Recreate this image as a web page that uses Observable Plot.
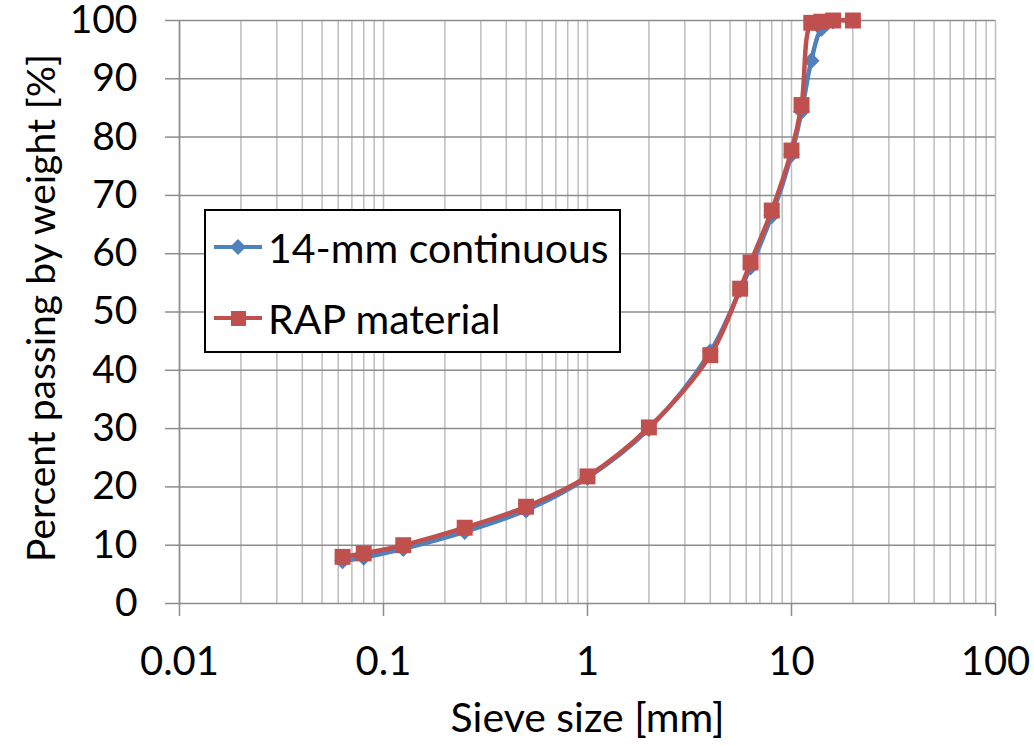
<!DOCTYPE html>
<html>
<head>
<meta charset="utf-8">
<script src="https://cdn.jsdelivr.net/npm/d3@7"></script>
<script src="https://cdn.jsdelivr.net/npm/@observablehq/plot@0.6"></script>
<style>
  body { margin: 0; background: #fff; }
  #wrap { position: relative; width: 1034px; height: 746px; font-family: Lato, "Liberation Sans", sans-serif; }
  #legend { position: absolute; left: 204px; top: 209px; width: 417px; height: 144px; box-sizing: border-box;
            border: 2px solid #000; background: #fff; }
  .item { position: absolute; left: 6px; height: 50px; display: flex; align-items: center; font-size: 41px; color: #000; white-space: nowrap; }
  .item svg { margin-right: 4px; }
</style>
</head>
<body>
<div id="wrap"></div>
<script>
// Sieve sizes (mm)
const sieves = [0.063, 0.08, 0.125, 0.25, 0.5, 1, 2, 4, 5.6, 6.3, 8, 10, 11.2, 12.5, 14, 16, 20];
// Percent passing
const continuous14 = [7.3, 7.9, 9.4, 12.3, 16.0, 21.6, 30.0, 43.2, 53.8, 57.7, 66.5, 77.0, 84.4, 93.1, 98.6, 99.9, 100];
const rapMaterial  = [8.0, 8.6, 10.0, 13.0, 16.6, 21.8, 30.2, 42.6, 54.0, 58.5, 67.4, 77.7, 85.5, 99.6, 99.8, 100, 100];
const seriesNames = ["14-mm continuous", "RAP material"];
const xTicks = [0.01, 0.1, 1, 10, 100];
const yTicks = [0, 10, 20, 30, 40, 50, 60, 70, 80, 90, 100];
const xTitle = "Sieve size [mm]";
const yTitle = "Percent passing by weight [%]";

const blue = "#4F81BD", red = "#C0504D";
const blueData = sieves.map((s, i) => ({x: s, y: continuous14[i]}));
const redData = sieves.map((s, i) => ({x: s, y: rapMaterial[i]}));

const minor = [];
for (let e = -2; e < 2; e++) for (let k = 1; k <= 9; k++) minor.push(k * Math.pow(10, e));
minor.push(100);

const font = "Lato, 'Liberation Sans', sans-serif";

const chart = Plot.plot({
  width: 1034, height: 746,
  marginLeft: 179, marginRight: 39, marginTop: 20, marginBottom: 143,
  style: {fontFamily: font, background: "#fff", color: "#000", overflow: "visible"},
  x: {type: "log", domain: [0.01, 100]},
  y: {domain: [0, 100]},
  marks: [
    Plot.ruleX(minor, {stroke: "#bdbdbd", strokeWidth: 1.5, strokeOpacity: 1}),
    Plot.ruleY(yTicks, {x1: 0.01, x2: 100, stroke: "#8c8c8c", strokeWidth: 1.5}),
    Plot.ruleX([0.01], {stroke: "#8c8c8c", strokeWidth: 1.5}),
    Plot.axisX(xTicks, {tickSize: 13, tickPadding: 30, fontSize: 40, stroke: "#8c8c8c", strokeWidth: 1.5,
      tickFormat: d => String(d), label: null}),
    Plot.axisY(yTicks, {tickSize: 14, tickPadding: 28, fontSize: 39, stroke: "#8c8c8c", strokeWidth: 1.5, label: null}),
    Plot.line(blueData, {x: "x", y: "y", stroke: blue, strokeWidth: 4.5, curve: "catmull-rom"}),
    Plot.dot(blueData, {x: "x", y: "y", symbol: "diamond2", fill: blue, r: 7.5}),
    Plot.line(redData, {x: "x", y: "y", stroke: red, strokeWidth: 4.5, curve: "catmull-rom"}),
    Plot.dot(redData, {x: "x", y: "y", symbol: "square", fill: red, r: 9}),
    Plot.text([xTitle], {frameAnchor: "bottom", dy: 115, fontSize: 41, text: d => d, lineAnchor: "middle", textAnchor: "middle", fill: "#000"}),
    Plot.text([yTitle], {frameAnchor: "left", dx: -137, dy: -4, rotate: -90, fontSize: 39, text: d => d, lineAnchor: "middle", textAnchor: "middle", fill: "#000"})
  ]
});
const wrap = document.getElementById("wrap");
wrap.appendChild(chart);

// Legend overlay
const legend = document.createElement("div");
legend.id = "legend";
const syms = [
  `<svg width="52" height="22"><line x1="2" y1="11" x2="50" y2="11" stroke="${blue}" stroke-width="4"/><path d="M26,3 L34,11 L26,19 L18,11 Z" fill="${blue}"/></svg>`,
  `<svg width="52" height="22"><line x1="2" y1="11" x2="50" y2="11" stroke="${red}" stroke-width="4"/><rect x="19" y="4" width="15" height="15" fill="${red}"/></svg>`
];
seriesNames.forEach((name, i) => {
  const it = document.createElement("div");
  it.className = "item";
  it.style.top = (i === 0 ? 11 : 82) + "px";
  it.innerHTML = syms[i] + `<span>${name}</span>`;
  legend.appendChild(it);
});
wrap.appendChild(legend);
</script>
</body>
</html>
